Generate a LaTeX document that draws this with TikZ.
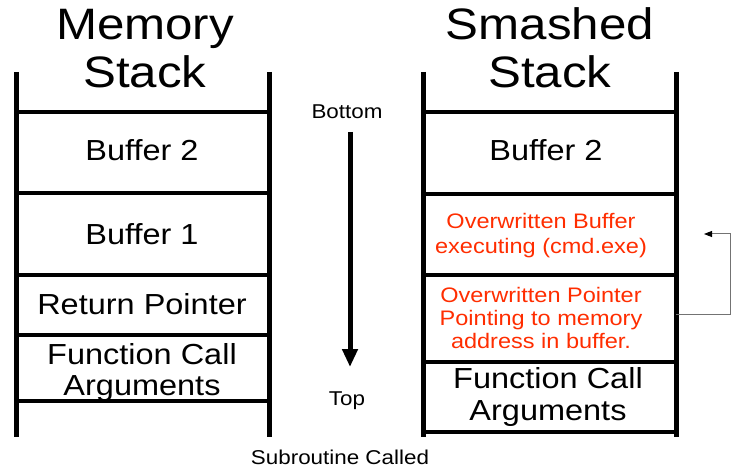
\documentclass[tikz,border=0pt]{standalone}
\usepackage{fontspec}
\setmainfont[FakeStretch=1.12]{Liberation Sans}
\usetikzlibrary{arrows.meta}
\definecolor{ovred}{RGB}{255,45,0}
\begin{document}
\begin{tikzpicture}[x=1pt,y=-1pt,
  wall/.style={line width=5pt},
  shelf/.style={line width=4pt},
  title/.style={anchor=base,inner sep=0pt,font=\fontsize{44}{48}\selectfont},
  cell/.style={anchor=base,inner sep=0pt,font=\fontsize{29}{32}\selectfont},
  redcell/.style={anchor=base,inner sep=0pt,text=ovred,font=\fontsize{21}{24}\selectfont},
  small/.style={anchor=base,inner sep=0pt,font=\fontsize{20}{22}\selectfont}]
\useasboundingbox (0,0) rectangle (745,468);
% Left stack
\coordinate (LT) at (16,72); \coordinate (LB) at (16,437);
\coordinate (RT) at (269,72); \coordinate (RB) at (269,437);
\draw[wall] (LT) -- (LB);
\draw[wall] (RT) -- (RB);
\foreach \y/\n in {112/a,193/b,275/c,335/d,401/e}{
  \coordinate (l\n1) at (16,\y); \coordinate (l\n2) at (269,\y);
  \draw[shelf] (l\n1) -- (l\n2);}
\node[title] (mem1) at (145,40) {Memory};
\node[title] (mem2) at (145,88) {Stack};
\node[cell] (lbuf2) at (142,161) {Buffer 2};
\node[cell] (lbuf1) at (142,244) {Buffer 1};
\node[cell] (lret) at (142,314) {Return Pointer};
\node[cell] (lfc1) at (142,364) {Function Call};
\node[cell] (lfc2) at (142,395) {Arguments};
% Right stack
\coordinate (MT) at (423,72); \coordinate (MB) at (423,437);
\coordinate (NT) at (676,72); \coordinate (NB) at (676,437);
\draw[wall] (MT) -- (MB);
\draw[wall] (NT) -- (NB);
\foreach \y/\n in {112/a,194/b,275/c,362/d,432/e}{
  \coordinate (r\n1) at (423,\y); \coordinate (r\n2) at (676,\y);
  \draw[shelf] (r\n1) -- (r\n2);}
\node[title] (sm1) at (550,40) {Smashed};
\node[title] (sm2) at (550,88) {Stack};
\node[cell] (rbuf2) at (546,161) {Buffer 2};
\node[redcell] (ob1) at (541,229) {Overwritten Buffer};
\node[redcell] (ob2) at (541,253) {executing (cmd.exe)};
\node[redcell] (op1) at (541,302) {Overwritten Pointer};
\node[redcell] (op2) at (541,325) {Pointing to memory};
\node[redcell] (op3) at (541,348) {address in buffer.};
\node[cell] (rfc1) at (548,388) {Function Call};
\node[cell] (rfc2) at (548,420) {Arguments};
% Middle
\node[small] (bot) at (347,119) {Bottom};
\node[small] (top) at (347,405) {Top};
\node[small] (sub) at (340,464) {Subroutine Called};
\coordinate (arS) at (350,132);
\coordinate (arE) at (350,367);
\draw[line width=5pt,-{Triangle[length=18pt,width=15pt]}] (arS) -- (arE);
% feedback arrow
\coordinate (fbA) at (676,314);
\coordinate (fbB) at (730,314);
\coordinate (fbC) at (730,234);
\coordinate (fbD) at (704,234);
\draw[black!55,line width=1pt,-{Triangle[length=8pt,width=6pt,color=black]}] (fbA) -- (fbB) -- (fbC) -- (fbD);
\end{tikzpicture}
\end{document}
